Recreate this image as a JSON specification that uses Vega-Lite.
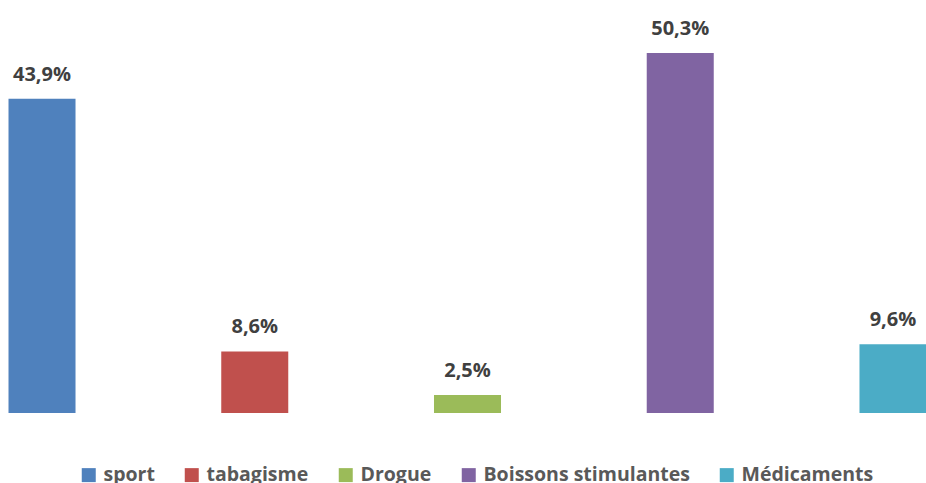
{
  "$schema": "https://vega.github.io/schema/vega-lite/v6.json",
  "width": 935,
  "height": 413,
  "padding": {"left": 0, "top": 0, "right": 0, "bottom": 70},
  "autosize": {"type": "none"},
  "background": "white",
  "config": {
    "locale": {"number": {"decimal": ",", "thousands": " ", "grouping": [3], "currency": ["", " €"]}},
    "view": {"stroke": null},
    "font": "Open Sans"
  },
  "data": {
    "values": [
      {"categorie": "sport", "part": 0.439},
      {"categorie": "tabagisme", "part": 0.086},
      {"categorie": "Drogue", "part": 0.025},
      {"categorie": "Boissons stimulantes", "part": 0.503},
      {"categorie": "Médicaments", "part": 0.096}
    ]
  },
  "encoding": {
    "x": {
      "field": "categorie",
      "type": "nominal",
      "sort": null,
      "scale": {"paddingInner": 0.685, "paddingOuter": 0.04},
      "axis": null
    },
    "y": {
      "field": "part",
      "type": "quantitative",
      "scale": {"domain": [0, 0.577], "nice": false, "zero": true},
      "axis": null
    }
  },
  "layer": [
    {
      "mark": {"type": "bar"},
      "encoding": {
        "color": {
          "field": "categorie",
          "type": "nominal",
          "sort": null,
          "scale": {
            "domain": ["sport", "tabagisme", "Drogue", "Boissons stimulantes", "Médicaments"],
            "range": ["#4F81BD", "#C0504D", "#9BBB59", "#8064A2", "#4BACC6"]
          },
          "legend": {
            "title": null,
            "orient": "none",
            "legendX": 79,
            "legendY": 465,
            "padding": 0,
            "direction": "horizontal",
            "symbolType": "square",
            "symbolSize": 196,
            "symbolStrokeWidth": 0,
            "labelFont": "Open Sans",
            "labelFontWeight": "bold",
            "labelFontSize": 19.5,
            "labelColor": "#595959",
            "labelLimit": 400,
            "columnPadding": 27,
            "labelOffset": 5
          }
        }
      }
    },
    {
      "mark": {
        "type": "text",
        "baseline": "bottom",
        "dy": -14,
        "font": "Open Sans",
        "fontWeight": "bold",
        "fontSize": 20,
        "color": "#404040"
      },
      "encoding": {
        "text": {"field": "part", "type": "quantitative", "format": ".1%"}
      }
    }
  ]
}
